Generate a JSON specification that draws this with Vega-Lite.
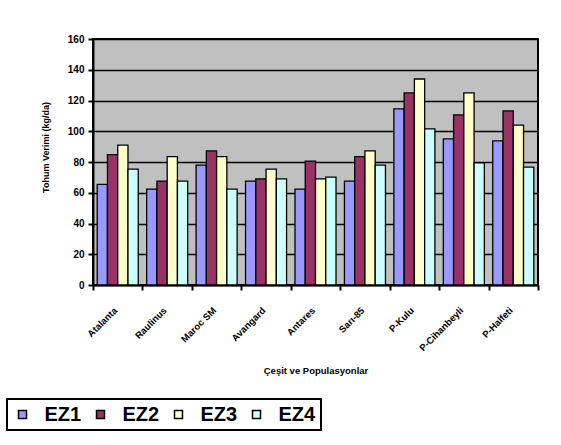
{
  "$schema": "https://vega.github.io/schema/vega-lite/v6.json",
  "width": 445,
  "height": 246,
  "autosize": "none",
  "padding": {"left": 93, "top": 39, "right": 23, "bottom": 160},
  "background": "white",
  "data": {
    "values": [
      {"cesit": "Atalanta", "seri": "EZ1", "verim": 65.5},
      {"cesit": "Atalanta", "seri": "EZ2", "verim": 84.8},
      {"cesit": "Atalanta", "seri": "EZ3", "verim": 91},
      {"cesit": "Atalanta", "seri": "EZ4", "verim": 75.4},
      {"cesit": "Raulinus", "seri": "EZ1", "verim": 62.4},
      {"cesit": "Raulinus", "seri": "EZ2", "verim": 67.6},
      {"cesit": "Raulinus", "seri": "EZ3", "verim": 83.5},
      {"cesit": "Raulinus", "seri": "EZ4", "verim": 67.6},
      {"cesit": "Maroc SM", "seri": "EZ1", "verim": 78},
      {"cesit": "Maroc SM", "seri": "EZ2", "verim": 87.2},
      {"cesit": "Maroc SM", "seri": "EZ3", "verim": 83.5},
      {"cesit": "Maroc SM", "seri": "EZ4", "verim": 62.4},
      {"cesit": "Avangard", "seri": "EZ1", "verim": 67.6},
      {"cesit": "Avangard", "seri": "EZ2", "verim": 69},
      {"cesit": "Avangard", "seri": "EZ3", "verim": 75.4},
      {"cesit": "Avangard", "seri": "EZ4", "verim": 69},
      {"cesit": "Antares", "seri": "EZ1", "verim": 62.4},
      {"cesit": "Antares", "seri": "EZ2", "verim": 80.6},
      {"cesit": "Antares", "seri": "EZ3", "verim": 69},
      {"cesit": "Antares", "seri": "EZ4", "verim": 70.2},
      {"cesit": "Sarı-85", "seri": "EZ1", "verim": 67.6},
      {"cesit": "Sarı-85", "seri": "EZ2", "verim": 83.5},
      {"cesit": "Sarı-85", "seri": "EZ3", "verim": 87.2},
      {"cesit": "Sarı-85", "seri": "EZ4", "verim": 78},
      {"cesit": "P-Kulu", "seri": "EZ1", "verim": 114.5},
      {"cesit": "P-Kulu", "seri": "EZ2", "verim": 124.9},
      {"cesit": "P-Kulu", "seri": "EZ3", "verim": 134},
      {"cesit": "P-Kulu", "seri": "EZ4", "verim": 101.5},
      {"cesit": "P-Cihanbeyli", "seri": "EZ1", "verim": 95},
      {"cesit": "P-Cihanbeyli", "seri": "EZ2", "verim": 110.6},
      {"cesit": "P-Cihanbeyli", "seri": "EZ3", "verim": 124.9},
      {"cesit": "P-Cihanbeyli", "seri": "EZ4", "verim": 79.4},
      {"cesit": "P-Halfeti", "seri": "EZ1", "verim": 93.7},
      {"cesit": "P-Halfeti", "seri": "EZ2", "verim": 113.2},
      {"cesit": "P-Halfeti", "seri": "EZ3", "verim": 104},
      {"cesit": "P-Halfeti", "seri": "EZ4", "verim": 76.7}
    ]
  },
  "mark": {"type": "bar", "stroke": "black", "strokeWidth": 1.3},
  "encoding": {
    "x": {
      "field": "cesit",
      "type": "nominal",
      "sort": ["Atalanta", "Raulinus", "Maroc SM", "Avangard", "Antares", "Sarı-85", "P-Kulu", "P-Cihanbeyli", "P-Halfeti"],
      "scale": {"paddingInner": 0, "paddingOuter": 0},
      "title": "Çeşit ve Populasyonlar",
      "axis": {
        "tickBand": "extent",
        "tickSize": 5,
        "tickWidth": 2,
        "tickColor": "black",
        "domainColor": "black",
        "domainWidth": 2,
        "labelAngle": -45,
        "labelAlign": "right",
        "labelBaseline": "top",
        "labelFontSize": 9.5,
        "labelFontWeight": "bold",
        "labelColor": "black",
        "labelOffset": -6,
        "labelPadding": 15,
        "titleFontSize": 9.5,
        "titleFontWeight": "bold",
        "titleColor": "black",
        "titleY": 85,
        "titleBaseline": "middle",
        "grid": false
      }
    },
    "xOffset": {
      "field": "seri",
      "sort": ["EZ1", "EZ2", "EZ3", "EZ4"],
      "scale": {"paddingInner": 0, "paddingOuter": 0.41}
    },
    "y": {
      "field": "verim",
      "type": "quantitative",
      "scale": {"domain": [0, 160], "nice": false},
      "title": "Tohum Verimi (kg/da)",
      "axis": {
        "values": [0, 20, 40, 60, 80, 100, 120, 140, 160],
        "grid": true,
        "gridColor": "black",
        "gridWidth": 1.5,
        "gridOpacity": 1,
        "domainColor": "black",
        "domainWidth": 2,
        "tickColor": "black",
        "tickWidth": 2,
        "tickSize": 5,
        "labelFontSize": 10,
        "labelFontWeight": "bold",
        "labelColor": "black",
        "labelPadding": 4,
        "titleFontSize": 9,
        "titleFontWeight": "bold",
        "titleColor": "black",
        "titleX": -48,
        "titleY": 108,
        "titleAngle": -90,
        "titleAlign": "center",
        "titleBaseline": "middle"
      }
    },
    "color": {
      "field": "seri",
      "type": "nominal",
      "scale": {
        "domain": ["EZ1", "EZ2", "EZ3", "EZ4"],
        "range": ["#9999FF", "#993366", "#FFFFCC", "#CCFFFF"]
      },
      "legend": {
        "orient": "none",
        "legendX": -86,
        "legendY": 360,
        "direction": "horizontal",
        "title": null,
        "symbolType": "square",
        "symbolSize": 64,
        "symbolStrokeColor": "black",
        "symbolStrokeWidth": 1.5,
        "symbolOpacity": 1,
        "labelFontSize": 20,
        "labelFontWeight": "bold",
        "labelColor": "black",
        "labelOffset": 12,
        "columnPadding": 9,
        "strokeColor": "black",
        "padding": 5.5
      }
    }
  },
  "config": {
    "font": "Liberation Sans",
    "view": {"fill": "#C0C0C0", "stroke": "black", "strokeWidth": 2},
    "legend": {"strokeWidth": 2}
  }
}
